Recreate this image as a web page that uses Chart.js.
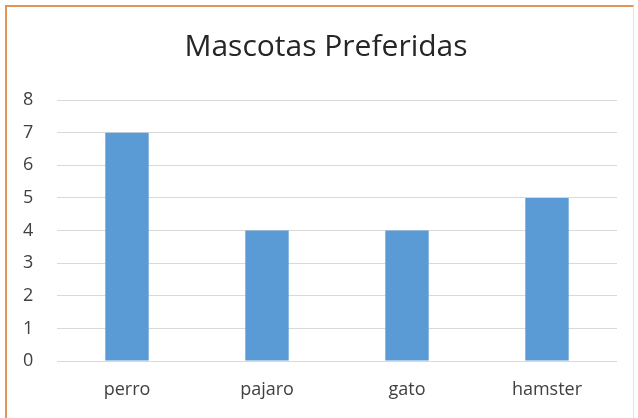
<!DOCTYPE html>
<html>
<head>
  <meta charset="UTF-8"/>
  <title>Mascotas Preferidas</title>
  <style>
    body { margin: 0; background: #fff; }
    #wrap { position: relative; width: 638px; height: 418px; }
    #frame { position: absolute; left: 5px; top: 5px; width: 626px; height: 420px;
             border-left: 2px solid #E39558; border-top: 2px solid #E39558; border-right: 1px solid #e4e4e4; }
    canvas { position: absolute; left: 0; top: 0; }
  </style>
  <script src="https://cdn.jsdelivr.net/npm/chart.js"></script>
</head>
<body>
  <div id="wrap">
    <div id="frame"></div>
    <canvas id="myChart" width="638" height="418"></canvas>
  </div>
  <script>
    // datos del grafico
    const mascotas = ['perro', 'pajaro', 'gato', 'hamster'];
    const votos = [7, 4, 4, 5];
    const tituloTexto = 'Mascotas Preferidas';

    const ctx = document.getElementById('myChart').getContext('2d');
    const chart = new Chart(ctx, {
      type: 'bar',
      data: {
        labels: mascotas,
        datasets: [{
          label: 'Votos',
          data: votos,
          backgroundColor: '#5B9BD5',
          borderWidth: 0,
          categoryPercentage: 1,
          barPercentage: 0.31
        }]
      },
      options: {
        responsive: false,
        animation: false,
        // padding izquierdo para centrar el titulo como en la imagen
        layout: { padding: { left: 35, right: 21, top: 0, bottom: 0 } },
        plugins: {
          legend: { display: false },
          tooltip: { enabled: false },
          title: {
            display: true,
            text: tituloTexto,
            color: '#262626',
            font: { family: 'Open Sans', size: 30, weight: 'normal', lineHeight: 1.2 },
            padding: { top: 29, bottom: 35 }
          }
        },
        scales: {
          x: {
            grid: { display: false, drawTicks: false },
            border: { display: false },
            ticks: { color: '#404040', font: { family: 'Open Sans', size: 18 }, padding: 18 },
            afterFit: s => { s.height = 57; }
          },
          y: {
            min: 0, max: 8,
            grid: { color: '#d9d9d9', drawTicks: false },
            border: { display: false },
            // mirror para que las etiquetas no se recorten fuera de la caja del eje
            ticks: { stepSize: 1, mirror: true, color: '#404040', font: { family: 'Open Sans', size: 18 }, padding: -34 },
            afterFit: s => { s.width = 22; }
          }
        }
      }
    });
  </script>
</body>
</html>
